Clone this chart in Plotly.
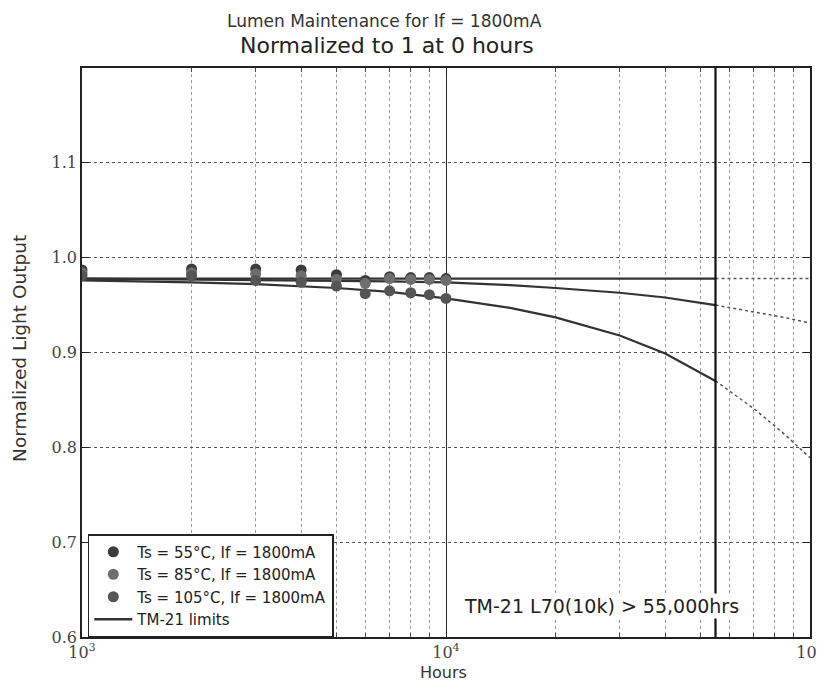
import plotly.graph_objects as go

# ---- data ----
hours = [1000, 2000, 3000, 4000, 5000, 6000, 7000, 8000, 9000, 10000]
ts55 = [0.987, 0.988, 0.988, 0.987, 0.982, 0.976, 0.980, 0.979, 0.979, 0.978]
ts85 = [0.984, 0.984, 0.983, 0.981, 0.977, 0.973, 0.978, 0.977, 0.977, 0.976]
ts105 = [0.981, 0.981, 0.976, 0.974, 0.970, 0.962, 0.965, 0.963, 0.961, 0.957]

fit_hours = [1000, 2000, 3000, 5000, 7000, 10000, 15000, 20000, 30000, 40000, 55000]
fit55 = [0.978, 0.978, 0.978, 0.978, 0.978, 0.978, 0.978, 0.978, 0.978, 0.978, 0.978]
fit85 = [0.978, 0.977, 0.977, 0.976, 0.975, 0.974, 0.971, 0.968, 0.963, 0.958, 0.950]
fit105 = [0.976, 0.974, 0.972, 0.968, 0.964, 0.957, 0.947, 0.937, 0.918, 0.899, 0.870]

ext_hours = [55000, 70000, 85000, 100000]
ext55 = [0.978, 0.978, 0.978, 0.978]
ext85 = [0.950, 0.943, 0.937, 0.931]
ext105 = [0.870, 0.841, 0.814, 0.789]

l70_hours = 55000
x_ticks = [1000, 10000, 100000]
x_ticktext = ["10<sup>3</sup>", "10<sup>4</sup>", "10<sup>5</sup>"]
x_minor = [2000, 3000, 4000, 5000, 6000, 7000, 8000, 9000,
           20000, 30000, 40000, 50000, 60000, 70000, 80000, 90000]
y_ticks = [0.6, 0.7, 0.8, 0.9, 1.0, 1.1]
y_ticktext = ["0.6", "0.7", "0.8", "0.9", "1.0", "1.1"]

fig = go.Figure()

line_col = "#333333"
for fy in [fit55, fit85, fit105]:
    fig.add_trace(go.Scatter(x=fit_hours, y=fy, mode="lines",
                             line=dict(color=line_col, width=2.2),
                             showlegend=False))
for ey in [ext55, ext85, ext105]:
    fig.add_trace(go.Scatter(x=ext_hours, y=ey, mode="lines",
                             line=dict(color="#555", width=1.5, dash="dot"),
                             showlegend=False))

fig.add_trace(go.Scatter(x=hours, y=ts55, mode="markers", name="Ts = 55°C, If = 1800mA",
                         marker=dict(color="#3c3c3c", size=11)))
fig.add_trace(go.Scatter(x=hours, y=ts85, mode="markers", name="Ts = 85°C, If = 1800mA",
                         marker=dict(color="#6e6e6e", size=11)))
fig.add_trace(go.Scatter(x=hours, y=ts105, mode="markers", name="Ts = 105°C, If = 1800mA",
                         marker=dict(color="#555555", size=11)))
fig.add_trace(go.Scatter(x=[None], y=[None], mode="lines",
                         line=dict(color=line_col, width=2.5),
                         name="TM-21 limits"))

# vertical L70 line
fig.add_shape(type="line", xref="x", yref="paper", x0=l70_hours, x1=l70_hours,
              y0=0, y1=1, line=dict(color="#111", width=2.2), layer="above")

fig.add_annotation(x=0.713, y=0.054, xref="paper", yref="paper",
                   text="TM-21 L70(10k) > 55,000hrs", showarrow=False,
                   font=dict(family="DejaVu Sans", size=19, color="#222"),
                   bgcolor="white", xanchor="center", yanchor="middle")

# titles
fig.add_annotation(x=0.416, y=1.083, xref="paper", yref="paper",
                   text="Lumen Maintenance for If = 1800mA", showarrow=False,
                   font=dict(family="DejaVu Sans", size=17, color="#333"),
                   xanchor="center", yanchor="middle")
fig.add_annotation(x=0.419, y=1.040, xref="paper", yref="paper",
                   text="Normalized to 1 at 0 hours", showarrow=False,
                   font=dict(family="DejaVu Sans", size=22, color="#222"),
                   xanchor="center", yanchor="middle")
fig.add_annotation(x=-0.086, y=0.507, xref="paper", yref="paper",
                   text="Normalized Light Output", showarrow=False, textangle=-90,
                   font=dict(family="DejaVu Sans", size=18.5, color="#333"),
                   xanchor="center", yanchor="middle")
fig.add_annotation(x=0.497, y=-0.062, xref="paper", yref="paper",
                   text="Hours", showarrow=False,
                   font=dict(family="DejaVu Sans", size=16, color="#333"),
                   xanchor="center", yanchor="middle")

# page body has an 8px default margin; size the figure so the plot area lands at
# x 82..810, y 68..637 in the 824x693 window
fig.update_layout(
    width=816, height=685,
    margin=dict(l=74, r=14, t=60, b=56),
    paper_bgcolor="white", plot_bgcolor="white",
    font=dict(family="DejaVu Sans", color="#333"),
    showlegend=True,
    legend=dict(x=0.008, y=0.181, xanchor="left", yanchor="top",
                bgcolor="white", bordercolor="#222", borderwidth=1.5,
                font=dict(family="DejaVu Sans", size=15, color="#222"),
                tracegroupgap=0, itemwidth=38),
    xaxis=dict(type="log", range=[3, 5], tickvals=x_ticks, ticktext=x_ticktext,
               ticks="inside", ticklen=7, tickcolor="#222", automargin=False,
               showgrid=True, gridcolor="#333", gridwidth=1.2,
               showline=True, linecolor="#222", linewidth=1.5, mirror="allticks",
               tickfont=dict(family="DejaVu Serif", size=16, color="#444"),
               minor=dict(tickvals=x_minor, ticks="inside", ticklen=4, tickcolor="#444",
                          showgrid=True, gridcolor="#999", griddash="dot", gridwidth=1),
               zeroline=False),
    yaxis=dict(range=[0.6, 1.2], tickvals=y_ticks, ticktext=y_ticktext,
               ticks="inside", ticklen=7, tickcolor="#222", automargin=False,
               showgrid=True, gridcolor="#555", griddash="dot", gridwidth=1,
               showline=True, linecolor="#222", linewidth=1.5, mirror="allticks",
               tickfont=dict(family="DejaVu Serif", size=16, color="#444"),
               zeroline=False),
)

fig.write_html("out.html")
